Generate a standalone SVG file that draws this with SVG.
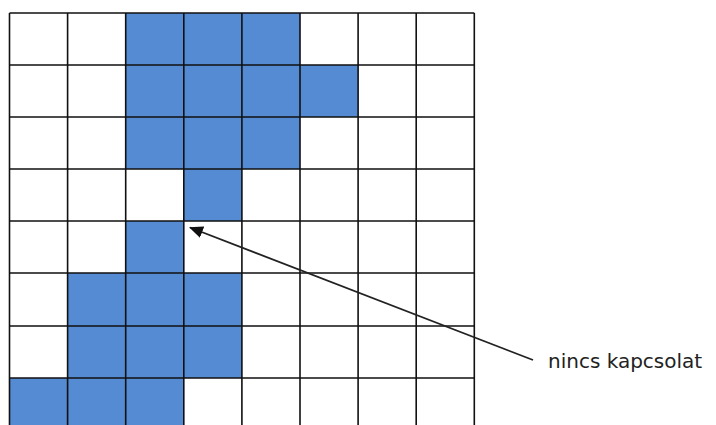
<svg xmlns="http://www.w3.org/2000/svg" width="716" height="425" viewBox="0 0 716 425">
<defs>
<style>
.b{fill:#558bd3}
.g{stroke:#111;stroke-width:1.6;fill:none}
.c{stroke:#222;stroke-width:1.8;fill:none}
.t{font-family:"DejaVu Sans",Verdana,sans-serif;font-size:20px;fill:#222}
</style>
<marker id="ah" markerWidth="14" markerHeight="12" refX="13" refY="6" orient="auto" markerUnits="userSpaceOnUse" viewBox="0 0 14 12">
<path d="M0,0 L14,6 L0,12 Z" fill="#111"/>
</marker>
</defs>
<rect width="716" height="425" fill="#fff"/>
<g id="cells">
<rect class="b" x="125.7" y="13" width="58.1" height="52"/>
<rect class="b" x="183.8" y="13" width="58.1" height="52"/>
<rect class="b" x="241.9" y="13" width="58.1" height="52"/>
<rect class="b" x="125.7" y="65" width="58.1" height="52"/>
<rect class="b" x="183.8" y="65" width="58.1" height="52"/>
<rect class="b" x="241.9" y="65" width="58.1" height="52"/>
<rect class="b" x="300" y="65" width="58.1" height="52"/>
<rect class="b" x="125.7" y="117" width="58.1" height="52"/>
<rect class="b" x="183.8" y="117" width="58.1" height="52"/>
<rect class="b" x="241.9" y="117" width="58.1" height="52"/>
<rect class="b" x="183.8" y="169" width="58.1" height="52"/>
<rect class="b" x="125.7" y="221" width="58.1" height="52"/>
<rect class="b" x="67.6" y="273" width="58.1" height="53"/>
<rect class="b" x="125.7" y="273" width="58.1" height="53"/>
<rect class="b" x="183.8" y="273" width="58.1" height="53"/>
<rect class="b" x="67.6" y="326" width="58.1" height="52"/>
<rect class="b" x="125.7" y="326" width="58.1" height="52"/>
<rect class="b" x="183.8" y="326" width="58.1" height="52"/>
<rect class="b" x="9.5" y="378" width="58.1" height="52"/>
<rect class="b" x="67.6" y="378" width="58.1" height="52"/>
<rect class="b" x="125.7" y="378" width="58.1" height="52"/>
</g>
<g id="grid" class="g">
<path d="M9.5,13V430M67.6,13V430M125.7,13V430M183.8,13V430M241.9,13V430M300,13V430M358.1,13V430M416.2,13V430M474.3,13V430"/>
<path d="M9.5,13H474.3M9.5,65H474.3M9.5,117H474.3M9.5,169H474.3M9.5,221H474.3M9.5,273H474.3M9.5,326H474.3M9.5,378H474.3"/>
</g>
<g id="connectors">
<line class="c" x1="533" y1="360" x2="190" y2="227.5" marker-end="url(#ah)"/>
</g>
<g id="label">
<text class="t" x="548" y="368">nincs kapcsolat</text>
</g>
</svg>
